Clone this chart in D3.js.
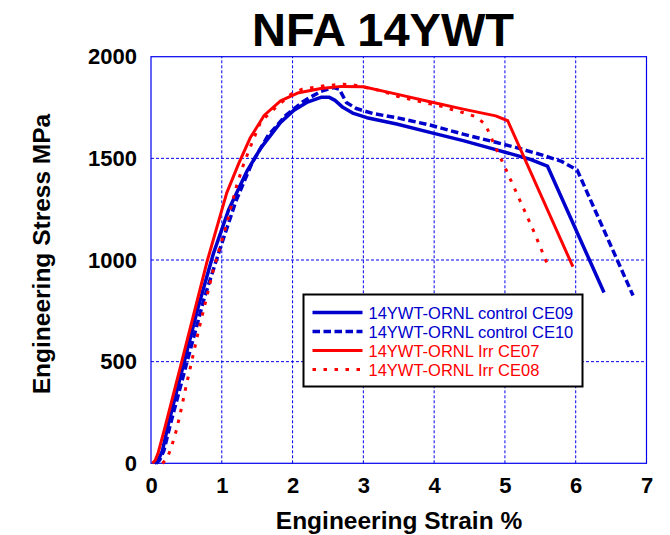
<!DOCTYPE html>
<html>
<head>
<meta charset="utf-8">
<script src="https://cdn.jsdelivr.net/npm/d3@7"></script>
<style>
    body { margin: 0; background: #fff; }
    svg { display: block; font-family: "Liberation Sans", Arial, sans-serif; }
</style>
</head>
<body>
<svg id="chart"></svg>
<script>
// tick values
const xTicks = [0, 1, 2, 3, 4, 5, 6, 7];
const yTicks = [0, 500, 1000, 1500, 2000];

// [strain %, stress MPa]
const ce09 = [[0.05, 0], [0.1, 15], [0.16, 60], [0.25, 200], [0.47, 500], [0.66, 760], [0.88, 1030], [1.1, 1250],
    [1.36, 1440], [1.55, 1550], [1.83, 1677], [2.02, 1737], [2.2, 1775], [2.4, 1800], [2.52, 1800],
    [2.6, 1785], [2.71, 1751], [2.86, 1721], [3.05, 1700], [3.47, 1669], [3.94, 1628], [4.41, 1587],
    [4.87, 1543], [5.15, 1516], [5.34, 1497], [5.6, 1462], [6.4, 840]];
const ce10 = [[0.07, 0], [0.12, 15], [0.18, 60], [0.28, 200], [0.51, 500], [0.75, 810], [0.97, 1050], [1.2, 1290],
    [1.43, 1480], [1.65, 1610], [1.9, 1710], [2.15, 1780], [2.4, 1830], [2.58, 1848], [2.66, 1840],
    [2.76, 1775], [2.9, 1745], [3.14, 1720], [3.47, 1700], [3.94, 1664], [4.41, 1619], [4.87, 1579],
    [5.15, 1554], [5.53, 1516], [5.8, 1485], [6.02, 1443], [6.81, 825]];
const ce07 = [[0.02, 0], [0.06, 15], [0.1, 50], [0.2, 180], [0.42, 480], [0.79, 990], [1.07, 1330],
    [1.24, 1475], [1.4, 1600], [1.6, 1712], [1.83, 1783], [2.07, 1821], [2.4, 1844], [2.69, 1854],
    [3.0, 1852], [3.47, 1816], [3.94, 1778], [4.41, 1742], [4.87, 1709], [5.04, 1685], [5.96, 967]];
const ce08 = [[0.16, 0], [0.22, 20], [0.28, 70], [0.36, 164], [0.43, 271], [0.5, 386], [0.57, 493],
    [0.67, 650], [0.88, 951], [1.07, 1179], [1.21, 1366], [1.31, 1473], [1.43, 1579], [1.55, 1680],
    [1.74, 1743], [1.98, 1816], [2.14, 1841], [2.45, 1857], [2.72, 1865], [2.88, 1860], [3.19, 1837],
    [3.35, 1821], [3.49, 1804], [3.66, 1791], [3.82, 1778], [3.96, 1767], [4.12, 1755], [4.26, 1739],
    [4.43, 1723], [4.58, 1706], [4.72, 1669], [4.79, 1615], [4.86, 1559], [4.93, 1508], [5.0, 1456],
    [5.21, 1295], [5.42, 1131], [5.62, 962]];

const seriesNames = ["14YWT-ORNL control CE09", "14YWT-ORNL control CE10",
    "14YWT-ORNL Irr CE07", "14YWT-ORNL Irr CE08"];

const width = 670, height = 535;
const margin = {left: 151, right: 23.5, top: 56.7, bottom: 71.7};

const svg = d3.select("#chart").attr("width", width).attr("height", height);

const xScale = d3.scaleLinear().domain([0, 7]).range([margin.left, width - margin.right]);
const yScale = d3.scaleLinear().domain([0, 2000]).range([height - margin.bottom, margin.top]);

// styles, in drawing order
const styles = [
    {color: "#0000cc", width: 3.5, dash: null},
    {color: "#0000cc", width: 3.5, dash: "7.5,3.5"},
    {color: "#ff0000", width: 3, dash: null},
    {color: "#ff0000", width: 3, dash: "3.5,7.5"}
];
const series = [ce09, ce10, ce07, ce08];

// grid
const grid = svg.append("g").attr("class", "grid")
    .attr("stroke", "#0000ee").attr("stroke-width", 1).attr("stroke-dasharray", "3,2");
grid.selectAll("line.v").data(xTicks.slice(1, -1)).enter()
    .append("line").attr("class", "v")
    .attr("x1", d => xScale(d)).attr("x2", d => xScale(d))
    .attr("y1", yScale(0)).attr("y2", yScale(2000));
grid.selectAll("line.h").data(yTicks.slice(1, -1)).enter()
    .append("line").attr("class", "h")
    .attr("y1", d => yScale(d)).attr("y2", d => yScale(d))
    .attr("x1", xScale(0)).attr("x2", xScale(7));

// frame
svg.append("rect")
    .attr("x", xScale(0)).attr("y", yScale(2000))
    .attr("width", xScale(7) - xScale(0)).attr("height", yScale(0) - yScale(2000))
    .attr("fill", "none").attr("stroke", "#0000ee").attr("stroke-width", 1.2);

// axes, labels only
const xAxis = svg.append("g")
    .attr("transform", `translate(0,${yScale(0)})`)
    .call(d3.axisBottom(xScale).tickValues(xTicks).tickFormat(d3.format("d")).tickSize(0).tickPadding(14));
const yAxis = svg.append("g")
    .attr("transform", `translate(${xScale(0)},0)`)
    .call(d3.axisLeft(yScale).tickValues(yTicks).tickFormat(d3.format("d")).tickSize(0).tickPadding(14));
[xAxis, yAxis].forEach(a => {
    a.select(".domain").remove();
    a.selectAll("text").attr("font-size", 22).attr("font-weight", "bold")
        .attr("font-family", "Liberation Sans, Arial, sans-serif").attr("fill", "#000");
});

// curves
const line = d3.line().x(d => xScale(d[0])).y(d => yScale(d[1]));
svg.append("g").selectAll("path")
    .data(series).enter()
    .append("path")
    .attr("d", line)
    .attr("fill", "none")
    .attr("stroke", (d, i) => styles[i].color)
    .attr("stroke-width", (d, i) => styles[i].width)
    .attr("stroke-dasharray", (d, i) => styles[i].dash)
    .attr("stroke-linejoin", "round");

// legend
const legend = svg.append("g").attr("transform", "translate(303.5,294.5)");
legend.append("rect").attr("width", 279).attr("height", 92)
    .attr("fill", "#fff").attr("stroke", "#000").attr("stroke-width", 2);
const rows = legend.selectAll("g.row").data(seriesNames).enter()
    .append("g").attr("class", "row")
    .attr("transform", (d, i) => `translate(0,${18 + i * 19})`);
rows.append("line")
    .attr("x1", 9).attr("x2", 59).attr("y1", 0).attr("y2", 0)
    .attr("stroke", (d, i) => styles[i].color)
    .attr("stroke-width", (d, i) => styles[i].width)
    .attr("stroke-dasharray", (d, i) => styles[i].dash);
rows.append("text")
    .attr("x", 65).attr("y", 6)
    .attr("font-size", 16.5)
    .attr("fill", (d, i) => styles[i].color)
    .text(d => d);

// titles
svg.append("text")
    .attr("x", 383).attr("y", 46)
    .attr("text-anchor", "middle")
    .attr("font-size", 47).attr("font-weight", "bold")
    .text("NFA 14YWT");
svg.append("text")
    .attr("x", 399).attr("y", 529)
    .attr("text-anchor", "middle")
    .attr("font-size", 24.5).attr("font-weight", "bold")
    .text("Engineering Strain %");
svg.append("text")
    .attr("transform", "translate(50,254) rotate(-90)")
    .attr("text-anchor", "middle")
    .attr("font-size", 24.5).attr("font-weight", "bold")
    .text("Engineering Stress MPa");
</script>
</body>
</html>
